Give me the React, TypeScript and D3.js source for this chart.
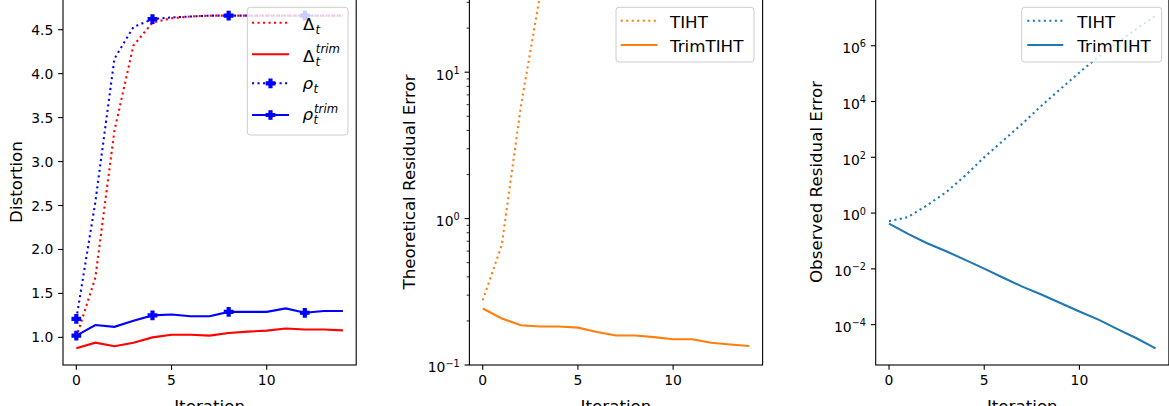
import React from "react";
import * as d3 from "d3";

// ---------------- data ----------------
const iterations = [0, 1, 2, 3, 4, 5, 6, 7, 8, 9, 10, 11, 12, 13, 14];

// Panel 1: distortion
const deltaT = [1.0, 1.68, 3.35, 4.32, 4.58, 4.63, 4.65, 4.66, 4.66, 4.66, 4.66, 4.66, 4.66, 4.66, 4.66];
const deltaTrim = [0.875, 0.94, 0.9, 0.94, 1.0, 1.03, 1.03, 1.02, 1.05, 1.065, 1.077, 1.1, 1.09, 1.09, 1.08];
const rhoT = [1.21, 2.54, 4.17, 4.53, 4.62, 4.64, 4.65, 4.66, 4.66, 4.66, 4.66, 4.66, 4.66, 4.66, 4.66];
const rhoTrim = [1.02, 1.14, 1.12, 1.19, 1.25, 1.26, 1.24, 1.24, 1.29, 1.29, 1.29, 1.33, 1.28, 1.3, 1.3];

// Panel 2: theoretical residual error
const theoTIHT = [0.277, 0.66, 5.8, 33, 190, 1100, 6300, 36000, 2.1e5, 1.2e6, 7e6, 4e7, 2.3e8, 1.3e9, 7.5e9];
const theoTrim = [0.243, 0.208, 0.187, 0.183, 0.183, 0.18, 0.168, 0.159, 0.159, 0.155, 0.15, 0.15, 0.142, 0.138, 0.135];

// Panel 3: observed residual error
const obsTIHT = [0.51, 0.72, 1.9, 5.6, 22, 100, 400, 1600, 7000, 28000, 1.1e5, 4e5, 1.3e6, 4e6, 1.2e7];
const obsTrim = [0.42, 0.18, 0.083, 0.043, 0.021, 0.0102, 0.0048, 0.0023, 0.0012, 0.0006, 0.000295, 0.000151, 0.0000692, 0.0000324, 0.0000141];

const xTicks = [0, 5, 10];
const distTicks = [1.0, 1.5, 2.0, 2.5, 3.0, 3.5, 4.0, 4.5];
const theoTicks = [-1, 0, 1];
const obsTicks = [-4, -2, 0, 2, 4, 6];

// ---------------- layout ----------------
const W = 1169;
const H = 406;
const TOP = -1;
const BOTTOM = 365;
const PW = 293.2;
const LEFTS = [63, 469.4, 875.7];
const FONT = "DejaVu Sans, sans-serif";
const TICK_FS = 13.9;
const LABEL_FS = 16.7;
const SUB_FS = 11.7;
const LW = 2.08;
const DOT = "2.08,3.43";
const RED = "#ff0000";
const BLUE = "#0000ff";
const ORANGE = "#ff7f0e";
const C0 = "#1f77b4";

const makeX = (left: number) => d3.scaleLinear().domain([-0.7, 14.7]).range([left, left + PW]);

function padLinear(vals: number[]) {
  const [a, b] = d3.extent(vals) as [number, number];
  const m = (b - a) * 0.05;
  return [a - m, b + m];
}
function padLog(vals: number[]) {
  const [a, b] = d3.extent(vals.map((v) => Math.log10(v))) as [number, number];
  const m = (b - a) * 0.05;
  return [Math.pow(10, a - m), Math.pow(10, b + m)];
}

const plusPath = (cx: number, cy: number) => {
  const s = 4.17;
  const a = 1.39;
  return `M${cx - a},${cy - s}L${cx + a},${cy - s}L${cx + a},${cy - a}L${cx + s},${cy - a}L${cx + s},${cy + a}L${cx + a},${cy + a}L${cx + a},${cy + s}L${cx - a},${cy + s}L${cx - a},${cy + a}L${cx - s},${cy + a}L${cx - s},${cy - a}L${cx - a},${cy - a}Z`;
};

const expStr = (e: number) => (e < 0 ? "\u2212" + -e : String(e));

function Frame({ left, children, id, yLabel, yLabelX }: any) {
  const x = makeX(left);
  return (
    <g>
      <defs>
        <clipPath id={id}>
          <rect x={left} y={TOP} width={PW} height={BOTTOM - TOP} />
        </clipPath>
      </defs>
      <g clipPath={`url(#${id})`}>{children}</g>
      <rect x={left} y={TOP} width={PW} height={BOTTOM - TOP} fill="none" stroke="#000" strokeWidth={1.1} />
      {xTicks.map((t) => (
        <g key={t}>
          <line x1={x(t)} x2={x(t)} y1={BOTTOM} y2={BOTTOM + 4.86} stroke="#000" strokeWidth={1.1} />
          <text x={x(t)} y={BOTTOM + 20} textAnchor="middle" fontSize={TICK_FS} fontFamily={FONT} fill="#000">
            {t}
          </text>
        </g>
      ))}
      <text x={left + PW / 2} y={412} textAnchor="middle" fontSize={LABEL_FS} fontFamily={FONT} fill="#000">
        Iteration
      </text>
      <text
        transform={`translate(${yLabelX},${(TOP + BOTTOM) / 2}) rotate(-90)`}
        textAnchor="middle"
        fontSize={LABEL_FS}
        fontFamily={FONT}
        fill="#000"
      >
        {yLabel}
      </text>
    </g>
  );
}

function Legend({ x0, x1, y0, y1 }: any) {
  return <rect x={x0} y={y0} width={x1 - x0} height={y1 - y0} rx={3} fill="#fff" fillOpacity={0.8} stroke="#cccccc" strokeWidth={1} />;
}

export default function App() {
  // Panel 1
  const x1 = makeX(LEFTS[0]);
  const y1 = d3.scaleLinear().domain(padLinear([...deltaT, ...deltaTrim, ...rhoT, ...rhoTrim])).range([BOTTOM, TOP]);
  const line1 = (vals: number[]) =>
    d3.line<number>().x((_, i) => x1(iterations[i])).y((d) => y1(d))(vals) as string;

  // Panel 2
  const x2 = makeX(LEFTS[1]);
  const y2 = d3.scaleLog().domain([0.1, Math.pow(10, 1.5)]).range([BOTTOM, TOP]);
  const line2 = (vals: number[]) =>
    d3.line<number>().x((_, i) => x2(iterations[i])).y((d) => y2(d))(vals) as string;
  const minor2: number[] = [];
  for (let e = -1; e <= 1; e++) for (let k = 2; k <= 9; k++) {
    const v = k * Math.pow(10, e);
    if (v >= 0.1 && v <= Math.pow(10, 1.5)) minor2.push(v);
  }

  // Panel 3
  const x3 = makeX(LEFTS[2]);
  const y3 = d3.scaleLog().domain(padLog([...obsTIHT, ...obsTrim])).range([BOTTOM, TOP]);
  const line3 = (vals: number[]) =>
    d3.line<number>().x((_, i) => x3(iterations[i])).y((d) => y3(d))(vals) as string;

  const L0 = LEFTS[0];
  const L1 = LEFTS[1];
  const L2 = LEFTS[2];

  const markIdx = iterations.filter((_, i) => i % 4 === 0);

  return (
    <svg width={W} height={H} style={{ position: "absolute", left: 0, top: 0, background: "#fff" }}>
      <rect x={0} y={0} width={W} height={H} fill="#fff" />

      {/* ---------- Panel 1 ---------- */}
      <Frame left={L0} id="clip1" yLabel="Distortion" yLabelX={21.7}>
        <path d={line1(deltaT)} fill="none" stroke={RED} strokeWidth={LW} strokeDasharray={DOT} />
        <path d={line1(deltaTrim)} fill="none" stroke={RED} strokeWidth={LW} />
        <path d={line1(rhoT)} fill="none" stroke={BLUE} strokeWidth={LW} strokeDasharray={DOT} />
        {markIdx.map((i) => (
          <path key={"a" + i} d={plusPath(x1(iterations[i]), y1(rhoT[i]))} fill={BLUE} stroke={BLUE} strokeWidth={1.39} />
        ))}
        <path d={line1(rhoTrim)} fill="none" stroke={BLUE} strokeWidth={LW} />
        {markIdx.map((i) => (
          <path key={"b" + i} d={plusPath(x1(iterations[i]), y1(rhoTrim[i]))} fill={BLUE} stroke={BLUE} strokeWidth={1.39} />
        ))}
      </Frame>
      {distTicks.map((t) => (
        <g key={t}>
          <line x1={L0 - 4.86} x2={L0} y1={y1(t)} y2={y1(t)} stroke="#000" strokeWidth={1.1} />
          <text x={L0 - 9.7} y={y1(t) + 5} textAnchor="end" fontSize={TICK_FS} fontFamily={FONT} fill="#000">
            {t.toFixed(1)}
          </text>
        </g>
      ))}
      <Legend x0={247.3} x1={348} y0={7.3} y1={135} />
      <g fontFamily={FONT} fill="#000">
        <line x1={252} x2={289} y1={22.7} y2={22.7} stroke={RED} strokeWidth={LW} strokeDasharray={DOT} />
        <line x1={252} x2={289} y1={54.3} y2={54.3} stroke={RED} strokeWidth={LW} />
        <line x1={252} x2={289} y1={83.3} y2={83.3} stroke={BLUE} strokeWidth={LW} strokeDasharray={DOT} />
        <path d={plusPath(270.5, 83.3)} fill={BLUE} stroke={BLUE} strokeWidth={1.39} />
        <line x1={252} x2={289} y1={115} y2={115} stroke={BLUE} strokeWidth={LW} />
        <path d={plusPath(270.5, 115)} fill={BLUE} stroke={BLUE} strokeWidth={1.39} />

        <text x={303} y={30} fontSize={LABEL_FS}>
          Δ
          <tspan x={315.5} y={33.5} fontSize={SUB_FS} fontStyle="italic">t</tspan>
        </text>

        <text x={303} y={61.7} fontSize={LABEL_FS}>
          Δ
          <tspan x={315.5} y={65.5} fontSize={SUB_FS} fontStyle="italic">t</tspan>
          <tspan x={315.8} y={53.3} fontSize={SUB_FS} fontStyle="italic">trim</tspan>
        </text>

        <text x={302.5} y={89} fontSize={LABEL_FS} fontStyle="italic">
          ρ
          <tspan x={313.5} y={92.5} fontSize={SUB_FS}>t</tspan>
        </text>

        <text x={302.5} y={119.5} fontSize={LABEL_FS} fontStyle="italic">
          ρ
          <tspan x={313.5} y={123.5} fontSize={SUB_FS}>t</tspan>
          <tspan x={314} y={113} fontSize={SUB_FS}>trim</tspan>
        </text>
      </g>

      {/* ---------- Panel 2 ---------- */}
      <Frame left={L1} id="clip2" yLabel="Theoretical Residual Error" yLabelX={415}>
        <path d={line2(theoTIHT)} fill="none" stroke={ORANGE} strokeWidth={LW} strokeDasharray={DOT} />
        <path d={line2(theoTrim)} fill="none" stroke={ORANGE} strokeWidth={LW} />
      </Frame>
      {minor2.map((v) => (
        <line key={v} x1={L1 - 2.78} x2={L1} y1={y2(v)} y2={y2(v)} stroke="#000" strokeWidth={0.83} />
      ))}
      {theoTicks.map((e) => (
        <g key={e}>
          <line x1={L1 - 4.86} x2={L1} y1={y2(Math.pow(10, e))} y2={y2(Math.pow(10, e))} stroke="#000" strokeWidth={1.1} />
          <text x={L1 - 9.7} y={y2(Math.pow(10, e)) + 7.3} textAnchor="end" fontSize={TICK_FS} fontFamily={FONT} fill="#000">
            10<tspan dy={-5.8} fontSize={9.7}>{expStr(e)}</tspan>
          </text>
        </g>
      ))}
      <Legend x0={616} x1={754} y0={7.3} y1={62} />
      <g fontFamily={FONT} fill="#000" fontSize={LABEL_FS}>
        <line x1={620.7} x2={657.3} y1={20.7} y2={20.7} stroke={ORANGE} strokeWidth={LW} strokeDasharray={DOT} />
        <line x1={620.7} x2={657.3} y1={45} y2={45} stroke={ORANGE} strokeWidth={LW} />
        <text x={670} y={27.7}>TIHT</text>
        <text x={670} y={51.7}>TrimTIHT</text>
      </g>

      {/* ---------- Panel 3 ---------- */}
      <Frame left={L2} id="clip3" yLabel="Observed Residual Error" yLabelX={821.7}>
        <path d={line3(obsTIHT)} fill="none" stroke={C0} strokeWidth={LW} strokeDasharray={DOT} />
        <path d={line3(obsTrim)} fill="none" stroke={C0} strokeWidth={LW} />
      </Frame>
      {obsTicks.map((e) => (
        <g key={e}>
          <line x1={L2 - 4.86} x2={L2} y1={y3(Math.pow(10, e))} y2={y3(Math.pow(10, e))} stroke="#000" strokeWidth={1.1} />
          <text x={L2 - 9.7} y={y3(Math.pow(10, e)) + 7.3} textAnchor="end" fontSize={TICK_FS} fontFamily={FONT} fill="#000">
            10<tspan dy={-5.8} fontSize={9.7}>{expStr(e)}</tspan>
          </text>
        </g>
      ))}
      <Legend x0={1021.7} x1={1161.7} y0={7.3} y1={62} />
      <g fontFamily={FONT} fill="#000" fontSize={LABEL_FS}>
        <line x1={1027.3} x2={1063.3} y1={20.7} y2={20.7} stroke={C0} strokeWidth={LW} strokeDasharray={DOT} />
        <line x1={1027.3} x2={1063.3} y1={45} y2={45} stroke={C0} strokeWidth={LW} />
        <text x={1077.3} y={27.7}>TIHT</text>
        <text x={1077.3} y={51.7}>TrimTIHT</text>
      </g>
    </svg>
  );
}
